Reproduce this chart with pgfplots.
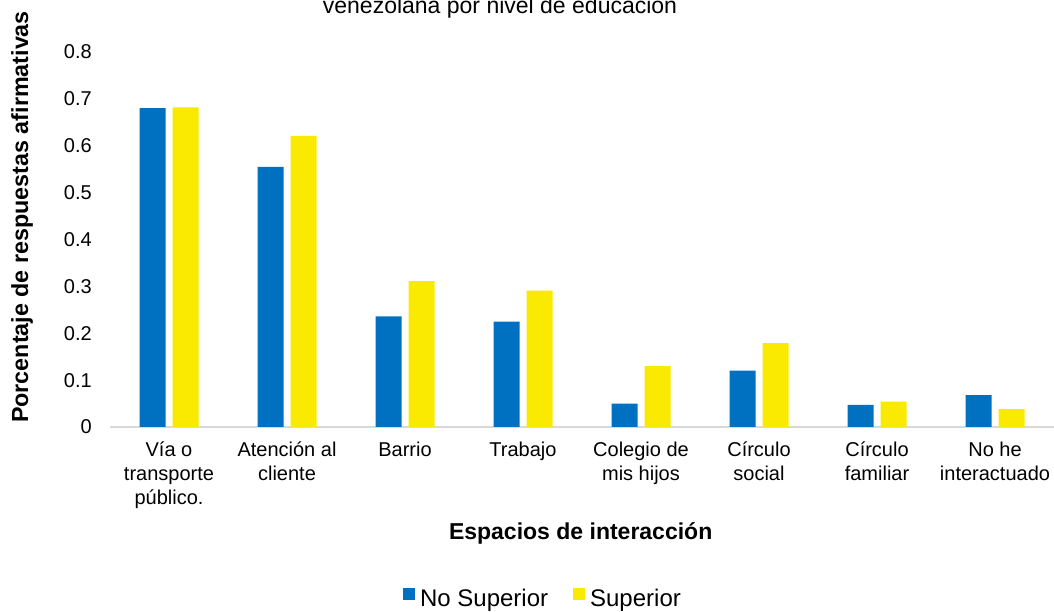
\documentclass[border=0pt]{standalone}
\usepackage{fontspec}
\setmainfont{Liberation Sans}
\usepackage{pgfplots}
\pgfplotsset{compat=1.18}

\definecolor{nosup}{RGB}{0,112,192}
\definecolor{sup}{RGB}{250,233,0}
\definecolor{axisgray}{RGB}{217,217,217}

\begin{document}
\begin{tikzpicture}[x=1pt,y=1pt]
\begin{axis}[
    at={(110pt,185pt)}, anchor=south west,
    scale only axis, width=944pt, height=375pt,
    ybar=7pt, bar width=26pt,
    xmin=-0.5, xmax=7.5, ymin=0, ymax=0.8,
    xtick={0,1,2,3,4,5,6,7},
    xticklabels={{Vía o\\transporte\\público.},{Atención al\\cliente},Barrio,Trabajo,
        {Colegio de\\mis hijos},{Círculo\\social},{Círculo\\familiar},{No he\\interactuado}},
    ytick={0,0.1,0.2,0.3,0.4,0.5,0.6,0.7,0.8},
    major tick length=0pt,
    axis x line*=bottom, axis y line*=left,
    x axis line style={draw=axisgray, line width=2pt, -},
    y axis line style={draw=none},
    /pgf/number format/assume math mode=true,
    yticklabel style={font=\fontsize{20}{24}\selectfont, anchor=east, inner sep=0pt, xshift=-18pt},
    xticklabel style={font=\fontsize{20}{24}\selectfont, align=center, anchor=north, inner sep=0pt, yshift=-15pt},
    xlabel={Espacios de interacción},
    xlabel style={font=\fontsize{23}{27}\selectfont\bfseries, at={(axis description cs:0.4986,-0.3013)}, anchor=base},
    ylabel={Porcentaje de respuestas afirmativas},
    ylabel style={font=\fontsize{23.3}{27}\selectfont\bfseries, at={(axis description cs:-0.0932,0.56)}, anchor=center},
    legend columns=2,
    legend style={draw=none, fill=none, font=\fontsize{24}{28}\selectfont,
        at={(axis description cs:0.4576,-0.4827)}, anchor=south, inner sep=0pt,
        nodes={inner sep=0pt},
        /tikz/column 1/.style={column sep=5pt},
        /tikz/column 2/.style={column sep=25pt},
        /tikz/column 3/.style={column sep=5pt}},
    legend image code/.code={\fill[#1] (0pt,-2pt) rectangle (12pt,10pt);},
]
\addplot[fill=nosup, draw=none] coordinates {
    (0,0.680) (1,0.555) (2,0.236) (3,0.225) (4,0.050) (5,0.120) (6,0.047) (7,0.068)
};
\addlegendentry{No Superior}
\addplot[fill=sup, draw=none] coordinates {
    (0,0.682) (1,0.621) (2,0.311) (3,0.291) (4,0.130) (5,0.179) (6,0.054) (7,0.038)
};
\addlegendentry{Superior}
\end{axis}
\node[anchor=base, font=\fontsize{23}{27}\selectfont] at (500pt,598pt) {venezolana por nivel de educación};
\pgfresetboundingbox
\path[use as bounding box] (0pt,0pt) rectangle (1054pt,612pt);
\end{tikzpicture}
\end{document}
